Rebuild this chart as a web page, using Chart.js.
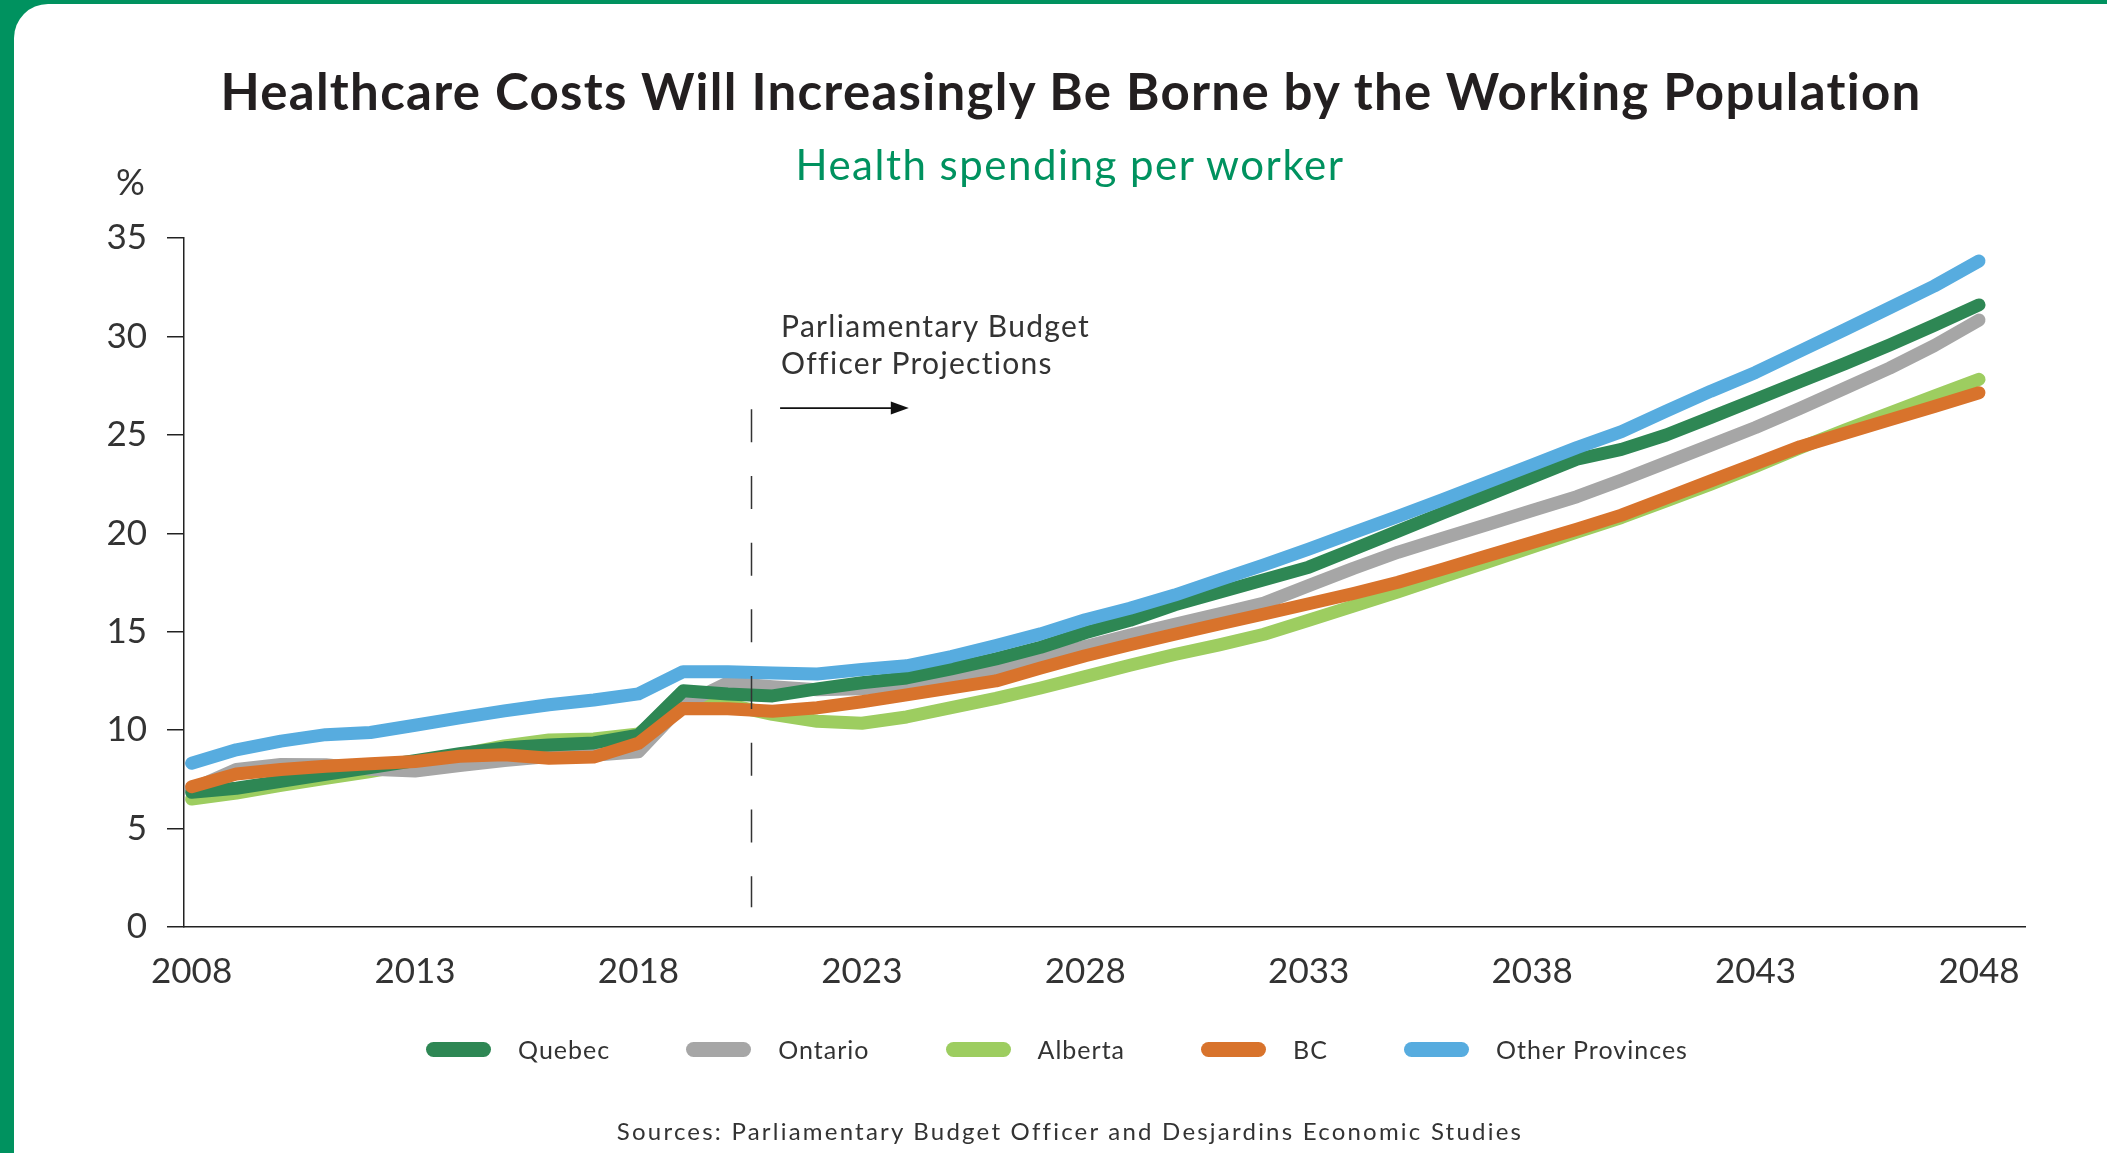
<!DOCTYPE html>
<html>
<head>
<meta charset="utf-8">
<script src="https://cdn.jsdelivr.net/npm/chart.js@4.4.1/dist/chart.umd.min.js"></script>
<style>
  html, body { margin: 0; padding: 0; }
  body {
    width: 2107px; height: 1153px; position: relative; overflow: hidden;
    background: #00925f; font-family: Lato, "Noto Sans", sans-serif; color: #333;
  }
  #card { position: absolute; left: 14px; top: 4px; right: 0; bottom: 0; background: #fff; border-top-left-radius: 34px; }
  #chart { position: absolute; left: 0; top: 0; }
  .txt { position: absolute; white-space: nowrap; line-height: 1; }
  #title { font-weight: 700; font-size: 51px; color: #231f20; left: 1071px; top: 65px; transform: translateX(-50%); }
  #subtitle { font-size: 42px; color: #00925f; left: 1070px; top: 143px; transform: translateX(-50%); }
  #unit { font-size: 36px; color: #333; left: 116px; top: 163px; }
  #note { font-size: 30px; color: #333; line-height: 36.6px; top: 307px; left: 781px; }
  #source { font-size: 24px; color: #333; left: 1070px; top: 1119px; transform: translateX(-50%); }
  #legend { position: absolute; left: 0; width: 2114px; top: 1029px; height: 40px; display: flex; justify-content: center; align-items: center; gap: 76px; }
  .item { display: flex; align-items: center; }
  .swatch { width: 65px; height: 15px; border-radius: 8px; margin-right: 27px; }
  .label { font-size: 25px; color: #333; line-height: 40px; white-space: nowrap; }
</style>
</head>
<body>
<div id="card"></div>
<canvas id="chart" width="2107" height="1153"></canvas>
<div id="title" class="txt">Healthcare Costs Will Increasingly Be Borne by the Working Population</div>
<div id="subtitle" class="txt">Health spending per worker</div>
<div id="unit" class="txt">%</div>
<div id="note" class="txt">Parliamentary Budget<br>Officer Projections</div>
<div id="legend"></div>
<div id="source" class="txt">Sources: Parliamentary Budget Officer and Desjardins Economic Studies</div>

<script>
const years = [2008, 2009, 2010, 2011, 2012, 2013, 2014, 2015, 2016, 2017, 2018, 2019, 2020,
  2021, 2022, 2023, 2024, 2025, 2026, 2027, 2028, 2029, 2030, 2031, 2032, 2033, 2034, 2035,
  2036, 2037, 2038, 2039, 2040, 2041, 2042, 2043, 2044, 2045, 2046, 2047, 2048];
const xTickYears = [2008, 2013, 2018, 2023, 2028, 2033, 2038, 2043, 2048];

const quebec = [6.85, 7.05, 7.4, 7.75, 8.1, 8.45, 8.8, 9.1, 9.25, 9.35, 9.75, 12.0, 11.84,
  11.74, 12.1, 12.41, 12.65, 13.11, 13.62, 14.21, 14.95, 15.58, 16.37, 17.01, 17.64, 18.28,
  19.19, 20.11, 21.03, 21.94, 22.85, 23.76, 24.26, 24.99, 25.89, 26.8, 27.71, 28.62, 29.57,
  30.57, 31.6];
const ontario = [7.0, 8.0, 8.26, 8.24, 8.01, 7.92, 8.2, 8.46, 8.66, 8.72, 8.9, 11.3, 12.4,
  12.2, 12.05, 12.1, 12.35, 12.69, 13.09, 13.67, 14.25, 14.83, 15.38, 15.91, 16.45, 17.34,
  18.22, 19.04, 19.75, 20.45, 21.16, 21.86, 22.7, 23.59, 24.48, 25.37, 26.35, 27.37, 28.39,
  29.53, 30.83];
const alberta = [6.5, 6.8, 7.2, 7.55, 7.9, 8.3, 8.75, 9.2, 9.5, 9.55, 9.8, 11.6, 11.3,
  10.8, 10.45, 10.35, 10.67, 11.14, 11.61, 12.14, 12.72, 13.3, 13.84, 14.33, 14.87, 15.58,
  16.3, 17.03, 17.79, 18.54, 19.3, 20.06, 20.8, 21.65, 22.5, 23.4, 24.35, 25.25, 26.1,
  26.97, 27.82];
const bc = [7.13, 7.77, 8.0, 8.17, 8.29, 8.41, 8.67, 8.75, 8.57, 8.63, 9.33, 11.1, 11.09,
  10.96, 11.14, 11.44, 11.79, 12.15, 12.5, 13.16, 13.78, 14.34, 14.87, 15.39, 15.9, 16.42,
  16.94, 17.51, 18.18, 18.86, 19.53, 20.2, 20.92, 21.79, 22.66, 23.53, 24.4, 25.08, 25.76,
  26.44, 27.14];
const otherProvinces = [8.32, 9.0, 9.44, 9.77, 9.88, 10.25, 10.62, 10.98, 11.29, 11.53,
  11.84, 12.97, 12.97, 12.9, 12.85, 13.08, 13.27, 13.74, 14.29, 14.89, 15.61, 16.19, 16.86,
  17.63, 18.4, 19.2, 20.03, 20.86, 21.71, 22.59, 23.47, 24.35, 25.16, 26.21, 27.22, 28.17,
  29.26, 30.35, 31.45, 32.56, 33.83];

// projection marker (year the projections start, dashed line extent, arrow)
const projectionStart = 2020.52;
const arrowFrom = 2021.17, arrowTo = 2024.05, arrowLevel = 26.36;

// order: lower number is drawn on top
const series = [
  { name: "Quebec", values: quebec, color: "#2e8754", order: 2 },
  { name: "Ontario", values: ontario, color: "#a6a6a6", order: 3 },
  { name: "Alberta", values: alberta, color: "#9dcd60", order: 4 },
  { name: "BC", values: bc, color: "#d8732c", order: 1 },
  { name: "Other Provinces", values: otherProvinces, color: "#57acdf", order: 0 }
];

const projectionMarks = {
  id: "projectionMarks",
  afterDatasetsDraw(chart) {
    const { ctx, scales: { x, y } } = chart;
    const px = Math.round(x.getPixelForValue(projectionStart)) + 0.5;
    ctx.save();
    ctx.strokeStyle = "#333";
    ctx.lineWidth = 1.5;
    ctx.setLineDash([33, 33.7]);
    ctx.beginPath();
    ctx.moveTo(px, y.getPixelForValue(26.3));
    ctx.lineTo(px, y.getPixelForValue(1.0));
    ctx.stroke();

    const ay = y.getPixelForValue(arrowLevel);
    const ax1 = x.getPixelForValue(arrowFrom);
    const ax2 = x.getPixelForValue(arrowTo);
    ctx.setLineDash([]);
    ctx.strokeStyle = "#111";
    ctx.fillStyle = "#111";
    ctx.lineWidth = 1.8;
    ctx.beginPath();
    ctx.moveTo(ax1, ay);
    ctx.lineTo(ax2 - 16, ay);
    ctx.stroke();
    ctx.beginPath();
    ctx.moveTo(ax2, ay);
    ctx.lineTo(ax2 - 18, ay - 6.5);
    ctx.lineTo(ax2 - 18, ay + 6.5);
    ctx.closePath();
    ctx.fill();
    ctx.restore();
  }
};

const ctx = document.getElementById("chart").getContext("2d");
const chart = new Chart(ctx, {
  type: "line",
  data: {
    datasets: series.map(s => ({
      label: s.name,
      data: years.map((yr, i) => ({ x: yr, y: s.values[i] })),
      borderColor: s.color,
      backgroundColor: s.color,
      borderWidth: 13,
      borderCapStyle: "round",
      borderJoinStyle: "round",
      pointRadius: 0,
      tension: 0,
      fill: false,
      clip: false,
      order: s.order
    }))
  },
  options: {
    responsive: false,
    animation: false,
    devicePixelRatio: 1,
    layout: { padding: { left: 0, top: 238, right: 82, bottom: 0 } },
    plugins: { legend: { display: false }, tooltip: { enabled: false } },
    scales: {
      x: {
        type: "linear",
        min: 2007.83,
        max: 2049.03,
        afterBuildTicks: scale => { scale.ticks = xTickYears.map(v => ({ value: v })); },
        afterFit: scale => { scale.height = 226; },
        grid: { display: false, drawTicks: false },
        border: { display: true, color: "#222", width: 1.5 },
        ticks: {
          font: { family: "Lato", size: 35 },
          color: "#333",
          padding: 24,
          maxRotation: 0,
          autoSkip: false,
          callback: v => String(v)
        }
      },
      y: {
        min: 0,
        max: 35,
        afterFit: scale => { scale.width = 184; },
        grid: { drawOnChartArea: false, drawTicks: true, tickLength: 17, color: "#222", lineWidth: 1.5 },
        border: { color: "#222", width: 1.5 },
        ticks: {
          stepSize: 5,
          font: { family: "Lato", size: 35 },
          color: "#333",
          padding: 20
        }
      }
    }
  },
  plugins: [projectionMarks]
});

// html legend built from the datasets
const legend = document.getElementById("legend");
chart.data.datasets.forEach(ds => {
  const item = document.createElement("div");
  item.className = "item";
  const sw = document.createElement("span");
  sw.className = "swatch";
  sw.style.background = ds.borderColor;
  const lb = document.createElement("span");
  lb.className = "label";
  lb.textContent = ds.label;
  item.appendChild(sw);
  item.appendChild(lb);
  legend.appendChild(item);
});

// stretch text to the widths of the original lettering
function fitText(el, target) {
  el.style.letterSpacing = "0px";
  const w = el.getBoundingClientRect().width;
  const n = el.textContent.length;
  el.style.letterSpacing = ((target - w) / n) + "px";
}
fitText(document.getElementById("title"), 1702);
fitText(document.getElementById("subtitle"), 549);
fitText(document.getElementById("source"), 905);

const labels = legend.querySelectorAll(".label");
const last = labels[labels.length - 1];
last.style.letterSpacing = "0px";
const lsLegend = (192 - last.getBoundingClientRect().width) / last.textContent.length;
labels.forEach(l => { l.style.letterSpacing = lsLegend + "px"; });

const note = document.getElementById("note");
note.style.letterSpacing = "0px";
const probe = document.createElement("span");
probe.textContent = "Parliamentary Budget";
probe.style.cssText = "position:absolute;visibility:hidden;white-space:nowrap;font-size:30px;font-family:Lato";
document.body.appendChild(probe);
note.style.letterSpacing = ((309 - probe.getBoundingClientRect().width) / 20) + "px";
probe.remove();
note.style.left = (chart.scales.x.getPixelForValue(arrowFrom) + 1) + "px";
</script>
</body>
</html>
